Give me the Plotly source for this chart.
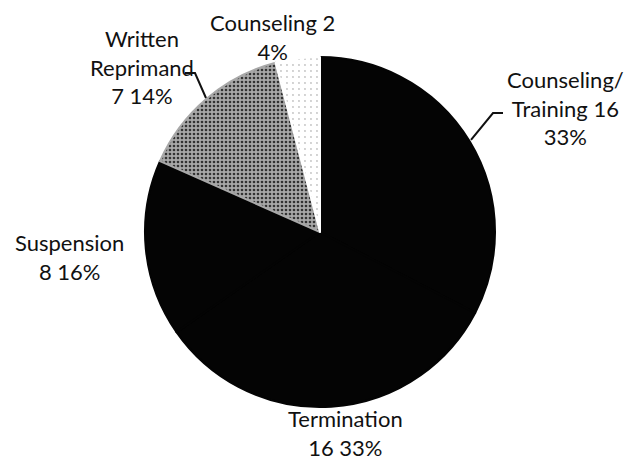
import plotly.graph_objects as go

# Disciplinary actions (count per category)
labels = ["Counseling/<br>Training", "Termination", "Suspension", "Written<br>Reprimand", "Counseling"]
counts = [16, 16, 8, 7, 2]
percents = ["33%", "33%", "16%", "14%", "4%"]

colors = ["#040404", "#040404", "#040404", "#a8a8a8", "#ffffff"]

# label text, built from the data
label_text = [
    "Counseling/<br>Training %d<br>%s" % (counts[0], percents[0]),
    "Termination<br>%d %s" % (counts[1], percents[1]),
    "Suspension<br>%d %s" % (counts[2], percents[2]),
    "Written<br>Reprimand<br>%d %s" % (counts[3], percents[3]),
    "Counseling %d<br>%s" % (counts[4], percents[4]),
]
# label centres in page pixels
label_px = [(565, 108), (346, 433), (69, 257), (142, 67), (272, 37)]

# page body has an 8px margin, so the figure is drawn a bit smaller and shifted
OFF = 8
W, H = 625, 452


def fx(x):
    return (x - OFF) / W


def fy(y):
    return 1 - (y - OFF) / H


fig = go.Figure(go.Pie(
    labels=labels,
    values=counts,
    sort=False,
    direction="clockwise",
    rotation=0,
    textinfo="none",
    hoverinfo="label+value+percent",
    marker=dict(
        colors=colors,
        line=dict(width=2, color=colors),
        pattern=dict(
            shape=["", "", "", ".", "."],
            fgcolor=["#000", "#000", "#000", "#333333", "#c4c4c4"],
            bgcolor=colors,
            size=[8, 8, 8, 4, 6],
            solidity=[0.3, 0.3, 0.3, 0.35, 0.08],
        ),
    ),
    domain=dict(x=[fx(144), fx(496)], y=[fy(407), fy(57)]),
    showlegend=False,
))

for txt, (x, y) in zip(label_text, label_px):
    fig.add_annotation(
        x=fx(x), y=fy(y), xref="paper", yref="paper",
        xanchor="center", yanchor="middle",
        text=txt, showarrow=False, align="center",
        font=dict(family="Lato", size=22, color="#111"),
    )


# leader lines
def pt(x, y):
    return "%.4f %.4f" % (fx(x), fy(y))


fig.add_shape(type="path", xref="paper", yref="paper",
              path="M " + pt(471, 140) + " L " + pt(493, 113) + " L " + pt(503, 113),
              line=dict(color="#111", width=2))
fig.add_shape(type="path", xref="paper", yref="paper",
              path="M " + pt(185, 73) + " L " + pt(195, 73) + " L " + pt(206, 98),
              line=dict(color="#111", width=2))

fig.update_layout(
    width=W, height=H,
    margin=dict(l=0, r=0, t=0, b=0),
    paper_bgcolor="white",
    plot_bgcolor="white",
)

fig.write_html("out.html")
